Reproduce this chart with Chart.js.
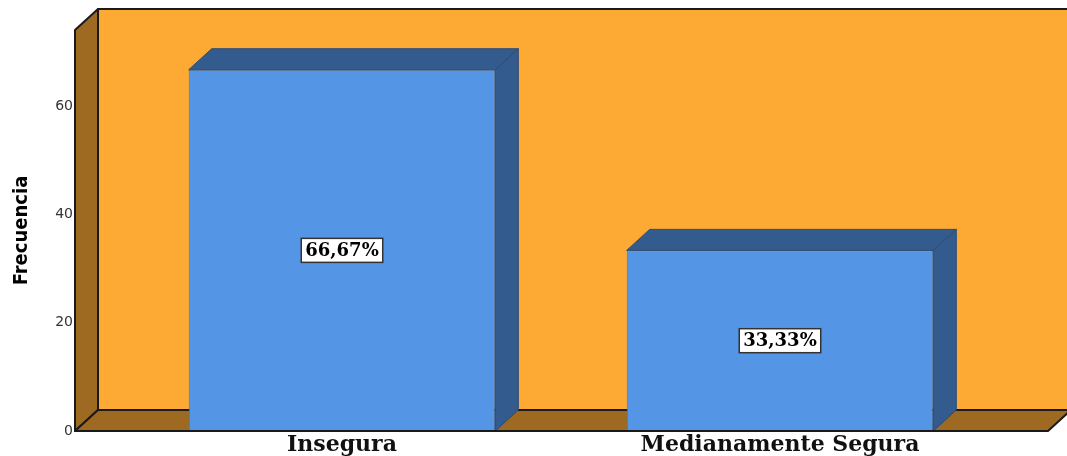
<!DOCTYPE html>
<html>
<head>
<meta charset="utf-8">
<script src="https://cdn.jsdelivr.net/npm/chart.js@4.4.0/dist/chart.umd.min.js"></script>
<style>
  html, body { margin: 0; padding: 0; background: #fff; }
  #wrap { width: 1067px; height: 456px; }
</style>
</head>
<body>
<div id="wrap"><canvas id="myChart"></canvas></div>
<script>
const categories = ["Insegura", "Medianamente Segura"];
const frecuencias = [66.67, 33.33];
const yTicks = [0, 20, 40, 60];
const yMax = 74;

const total = frecuencias.reduce((a, b) => a + b, 0);
const porcentajes = frecuencias.map(v => (v / total * 100).toFixed(2).replace('.', ',') + '%');

// profundidad del efecto 3D, en px
const DX = 23, DY = 21;
// cuanto sobresalen las paredes del area de categorias
const WALL_LEFT = 48, WALL_RIGHT = 49;

const naranja = '#FDAA35';
const marron = '#9E6A22';
const azul = '#5595E5';
const azulOscuro = '#335B8E';

function poly(ctx, pts, fill) {
    ctx.beginPath();
    ctx.moveTo(pts[0][0], pts[0][1]);
    for (let i = 1; i < pts.length; i++) ctx.lineTo(pts[i][0], pts[i][1]);
    ctx.closePath();
    ctx.fillStyle = fill;
    ctx.fill();
    ctx.stroke();
}

// fondo, pared lateral y suelo
const paredes = {
    id: 'paredes',
    beforeDatasetsDraw(chart) {
        const { ctx, chartArea: a } = chart;
        const L = a.left - WALL_LEFT, R = a.right + WALL_RIGHT, T = a.top, B = a.bottom;
        ctx.save();
        ctx.lineWidth = 2;
        ctx.strokeStyle = '#1a1a1a';
        ctx.lineJoin = 'round';
        poly(ctx, [[L + DX, T - DY], [R + DX + 20, T - DY], [R + DX + 20, B - DY], [L + DX, B - DY]], naranja);
        poly(ctx, [[L, B], [L, T], [L + DX, T - DY], [L + DX, B - DY]], marron);
        poly(ctx, [[L, B], [R, B], [R + DX, B - DY], [L + DX, B - DY]], marron);
        ctx.restore();
    }
};

// caras superior y lateral de cada barra + etiqueta de porcentaje
const caras = {
    id: 'caras',
    afterDatasetsDraw(chart) {
        const { ctx, chartArea: a } = chart;
        const meta = chart.getDatasetMeta(0);
        meta.data.forEach((bar, i) => {
            const { x, y, width, base } = bar.getProps(['x', 'y', 'width', 'base'], true);
            const x1 = x - width / 2, x2 = x + width / 2;
            ctx.save();
            ctx.lineWidth = 1;
            ctx.strokeStyle = '#2b4c78';
            poly(ctx, [[x1, y], [x1 + DX, y - DY], [x2 + DX, y - DY], [x2, y]], azulOscuro);
            poly(ctx, [[x2, y], [x2 + DX, y - DY], [x2 + DX, base - DY], [x2, base]], azulOscuro);

            ctx.font = 'bold 18px "DejaVu Serif"';
            const txt = porcentajes[i];
            const w = ctx.measureText(txt).width + 8, h = 24;
            const cy = (y + base) / 2;
            ctx.fillStyle = '#fff';
            ctx.fillRect(x - w / 2, cy - h / 2, w, h);
            ctx.strokeStyle = '#333';
            ctx.lineWidth = 1.5;
            ctx.strokeRect(x - w / 2, cy - h / 2, w, h);
            ctx.fillStyle = '#000';
            ctx.textAlign = 'center';
            ctx.textBaseline = 'middle';
            ctx.fillText(txt, x, cy + 1);
            ctx.restore();
        });
        // borde frontal del suelo por delante de las barras
        ctx.save();
        ctx.strokeStyle = '#1a1a1a';
        ctx.lineWidth = 2;
        ctx.beginPath();
        ctx.moveTo(a.left - WALL_LEFT, a.bottom);
        ctx.lineTo(a.right + WALL_RIGHT, a.bottom);
        ctx.stroke();
        ctx.restore();
    }
};

new Chart(document.getElementById('myChart'), {
    type: 'bar',
    data: {
        labels: categories,
        datasets: [{
            label: 'Frecuencia',
            data: frecuencias,
            backgroundColor: azul,
            borderColor: '#4477b8',
            borderWidth: 1,
            categoryPercentage: 1,
            barPercentage: 0.7
        }]
    },
    options: {
        responsive: true,
        maintainAspectRatio: false,
        animation: false,
        layout: { padding: { top: 30, right: 68, left: 0, bottom: 0 } },
        plugins: {
            legend: { display: false },
            tooltip: { enabled: false }
        },
        scales: {
            x: {
                grid: { display: false, drawTicks: false },
                border: { display: false },
                ticks: { color: '#111', font: { family: 'DejaVu Serif', size: 22, weight: 'bold' }, padding: 1 },
                afterFit: s => { s.height = 25; }
            },
            y: {
                min: 0,
                max: yMax,
                afterBuildTicks: s => { s.ticks = yTicks.map(v => ({ value: v })); },
                grid: { display: false, drawTicks: false },
                border: { display: false },
                ticks: { color: '#333', font: { family: 'DejaVu Sans', size: 14 }, padding: 50 },
                title: {
                    display: true,
                    text: 'Frecuencia',
                    color: '#000',
                    font: { family: '"Liberation Sans Narrow", "DejaVu Sans Condensed", sans-serif', size: 20, weight: 'bold' },
                    padding: { top: 10, bottom: 0 }
                },
                // ancho fijo del eje y sin relleno extra arriba/abajo
                afterFit: s => { s.width = 123; s.paddingTop = 0; s.paddingBottom = 0; }
            }
        }
    },
    plugins: [paredes, caras]
});
</script>
</body>
</html>
